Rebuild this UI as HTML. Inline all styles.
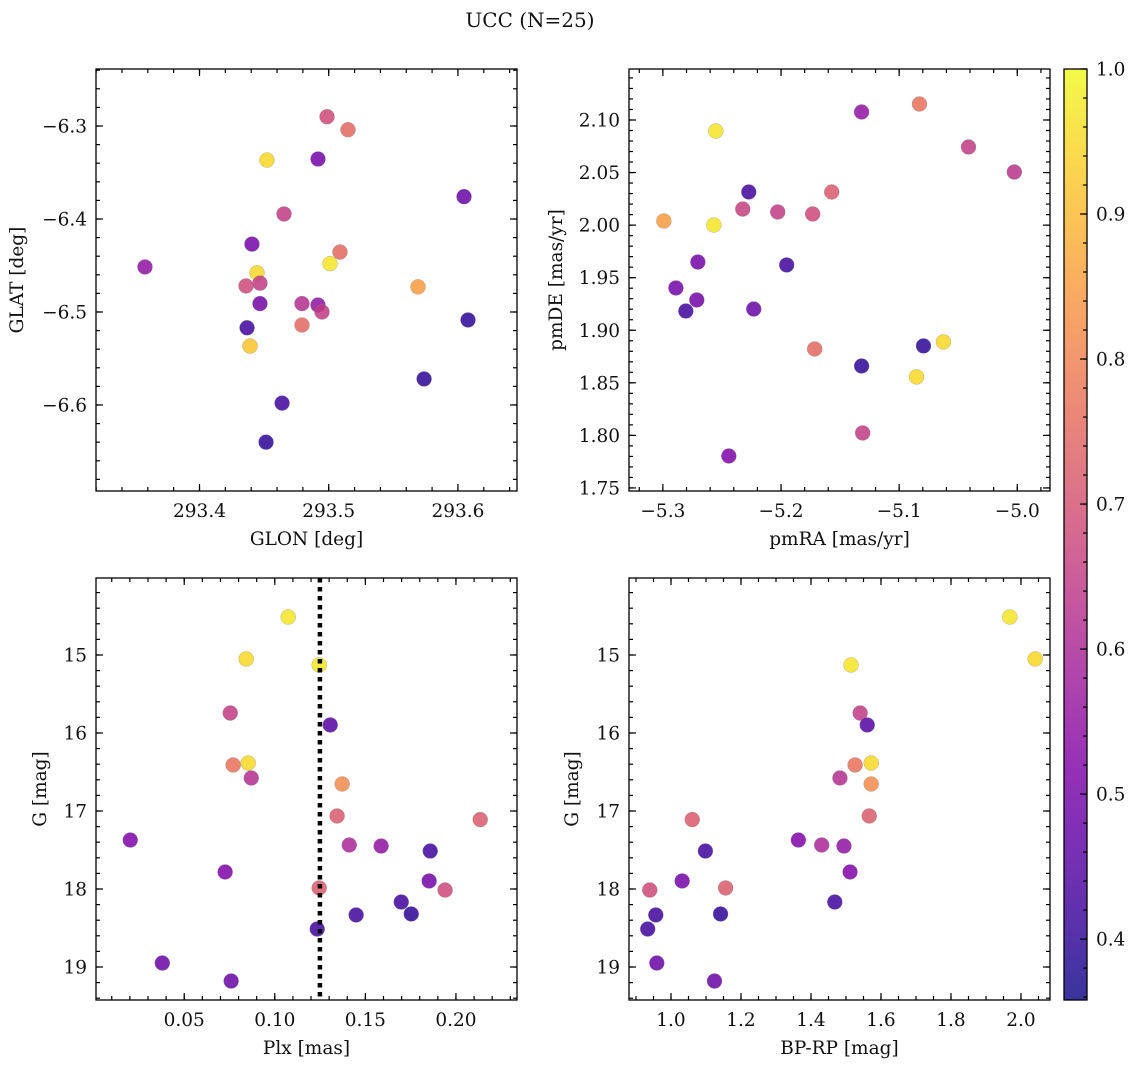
<!DOCTYPE html>
<html><head><meta charset="utf-8">
<style>
body{margin:0;background:#fff;}
svg text{font-family:"DejaVu Serif","Liberation Serif",serif;fill:#111;}
</style></head>
<body>
<svg id="fig" width="1136" height="1068" viewBox="0 0 1136 1068" xmlns="http://www.w3.org/2000/svg">
<rect width="1136" height="1068" fill="#fff"/>
<text x="530" y="27" font-size="20" text-anchor="middle">UCC (N=25)</text>
</svg>
<script>
// Panel 1 data
const glon=[293.3578,293.4522,293.4987,293.5149,293.4917,293.6047,293.4654,293.4406,293.501,293.5087,293.4445,293.436,293.4468,293.5691,293.4468,293.4793,293.4917,293.4948,293.4793,293.6078,293.4368,293.4391,293.5738,293.4639,293.4515];
const glat=[-6.4516,-6.3366,-6.290,-6.304,-6.3355,-6.376,-6.3946,-6.427,-6.448,-6.4355,-6.458,-6.472,-6.469,-6.473,-6.491,-6.491,-6.4925,-6.5,-6.514,-6.5086,-6.517,-6.5366,-6.572,-6.598,-6.640];
const prob1=[0.55,0.95,0.68,0.75,0.5,0.48,0.65,0.5,0.97,0.75,0.95,0.68,0.65,0.85,0.5,0.62,0.55,0.65,0.75,0.4,0.42,0.92,0.4,0.42,0.4];
// Panel 2 data
const pmra=[-5.0828,-5.1318,-5.2552,-5.0413,-5.0025,-5.2273,-5.1571,-5.2324,-5.2028,-5.1732,-5.2992,-5.2569,-5.2704,-5.1952,-5.289,-5.2713,-5.2806,-5.2231,-5.0625,-5.0794,-5.1715,-5.1318,-5.0853,-5.1309,-5.2442];
const pmde=[2.1152,2.1076,2.0895,2.0743,2.0505,2.0315,2.0315,2.0153,2.0125,2.0106,2.0039,2.0001,1.9649,1.9621,1.9402,1.9288,1.9183,1.9202,1.8889,1.8851,1.8822,1.866,1.8556,1.8023,1.7804];
const prob2=[0.77,0.55,0.97,0.65,0.63,0.42,0.72,0.66,0.65,0.68,0.85,0.97,0.5,0.42,0.5,0.5,0.42,0.48,0.95,0.4,0.75,0.4,0.95,0.65,0.52];
// Panels 3 & 4 data (shared G)
const plx=[0.1074,0.0842,0.1245,0.0754,0.1306,0.077,0.0853,0.087,0.1372,0.1344,0.2134,0.0202,0.1411,0.1587,0.1858,0.0726,0.1852,0.194,0.1245,0.1698,0.1753,0.1449,0.1234,0.0379,0.0759];
const gmag=[14.513,15.051,15.128,15.744,15.897,16.41,16.385,16.577,16.654,17.064,17.11,17.372,17.436,17.449,17.513,17.782,17.897,18.013,17.987,18.167,18.32,18.333,18.513,18.949,19.18];
const bprp=[1.968,2.0405,1.5145,1.5405,1.5607,1.526,1.572,1.4827,1.572,1.5665,1.0607,1.364,1.4306,1.4942,1.0983,1.5116,1.0318,0.9393,1.156,1.468,1.1416,0.9566,0.9335,0.9595,1.1243];
const prob3=[0.97,0.95,0.97,0.65,0.45,0.77,0.95,0.62,0.82,0.72,0.72,0.52,0.6,0.55,0.42,0.52,0.5,0.68,0.72,0.42,0.4,0.42,0.42,0.48,0.48];
const plxCut=[0.1249];
const cbTicks=[0.4,0.5,0.6,0.7,0.8,0.9,1.0];

const NS='http://www.w3.org/2000/svg';
const svg=document.getElementById('fig');
function mk(tag,attrs,parent){const e=document.createElementNS(NS,tag);for(const k in attrs)e.setAttribute(k,attrs[k]);(parent||svg).appendChild(e);return e;}
const VMIN=0.358,VMAX=1.0;
const stops=[[13,8,135],[76,2,161],[126,3,168],[169,35,149],[204,71,120],[229,107,93],[248,148,65],[253,195,40],[240,249,33]];
function plasma(v){let t=(v-VMIN)/(VMAX-VMIN);t=Math.max(0,Math.min(1,t));const s=t*8;const i=Math.min(7,Math.floor(s));const f=s-i;const a=stops[i],b=stops[i+1];return 'rgb('+a.map((c,k)=>Math.round(c+(b[k]-c)*f)).join(',')+')';}
function fmt(v,d){const s=Math.abs(v).toFixed(d);return (v<0?'\u2212':'')+s;}
const FS=18.5;

function panel(o){
  const g=mk('g',{});
  
  
  const sx=v=>o.px0+(v-o.xmin)/(o.xmax-o.xmin)*(o.px1-o.px0);
  const sy=o.invert?(v=>o.py0+(v-o.ymin)/(o.ymax-o.ymin)*(o.py1-o.py0)):(v=>o.py1-(v-o.ymin)/(o.ymax-o.ymin)*(o.py1-o.py0));
  const tg=mk('g',{stroke:'#000','stroke-width':1.2},g);
  const eps=1e-9;
  function ticksX(step,len,labels){
    const start=Math.ceil((Math.min(o.xmin,o.xmax))/step-eps);
    for(let k=start;k*step<=Math.max(o.xmin,o.xmax)+eps;k++){const v=k*step,x=sx(v);
      mk('line',{x1:x,x2:x,y1:o.py1,y2:o.py1-len},tg);mk('line',{x1:x,x2:x,y1:o.py0,y2:o.py0+len},tg);
      if(labels){const t=mk('text',{x:x,y:o.py1+26,'font-size':FS,'text-anchor':'middle'},g);t.textContent=fmt(v,o.xd);
        }}
  }
  function ticksY(step,len,labels){
    const lo=Math.min(o.ymin,o.ymax),hi=Math.max(o.ymin,o.ymax);
    for(let k=Math.ceil(lo/step-eps);k*step<=hi+eps;k++){const v=k*step,y=sy(v);
      mk('line',{x1:o.px0,x2:o.px0+len,y1:y,y2:y},tg);mk('line',{x1:o.px1,x2:o.px1-len,y1:y,y2:y},tg);
      if(labels){const t=mk('text',{x:o.px0-9,y:y+6.5,'font-size':FS,'text-anchor':'end'},g);t.textContent=fmt(v,o.yd);
        }}
  }
  ticksX(o.xmaj,7,true);ticksX(o.xmin_,4,false);ticksY(o.ymaj,7,true);ticksY(o.ymin_,4,false);
  for(let i=0;i<o.x.length;i++){
    const c=mk('circle',{cx:sx(o.x[i]),cy:sy(o.y[i]),r:7.5,fill:plasma(o.c[i]),'fill-opacity':0.85,stroke:'#888','stroke-width':0.5,'stroke-opacity':0.6},g);
    
    
  }
  if(o.vline){for(const v of o.vline){const l=mk('line',{x1:sx(v),x2:sx(v),y1:o.py0,y2:o.py1,stroke:'#000','stroke-width':4.5,'stroke-dasharray':'4.5,4.5'},g);
    }}
  const fr=mk('rect',{x:o.px0,y:o.py0,width:o.px1-o.px0,height:o.py1-o.py0,fill:'none',stroke:'#000','stroke-width':1.3},g);
  
  const xl=mk('text',{x:(o.px0+o.px1)/2,y:o.py1+54,'font-size':FS,'text-anchor':'middle'},g);xl.textContent=o.xlabel;
  
  const cy=(o.py0+o.py1)/2;
  const yl=mk('text',{x:o.ylx,y:cy,'font-size':FS,'text-anchor':'middle',transform:'rotate(-90 '+o.ylx+' '+cy+')'},g);yl.textContent=o.ylabel;
  
}

panel({name:'glon-glat-panel',px0:96,px1:517,py0:69,py1:491,xmin:293.3199,xmax:293.6457,ymin:-6.6925,ymax:-6.2387,xmaj:0.1,xmin_:0.02,ymaj:0.1,ymin_:0.02,xd:1,yd:1,x:glon,y:glat,c:prob1,xlabel:'GLON [deg]',ylabel:'GLAT [deg]',ylx:23});
panel({name:'pm-panel',px0:629,px1:1050,py0:69,py1:491,xmin:-5.3287,xmax:-4.9723,ymin:1.7471,ymax:2.1485,xmaj:0.1,xmin_:0.02,ymaj:0.05,ymin_:0.01,xd:1,yd:2,x:pmra,y:pmde,c:prob2,xlabel:'pmRA [mas/yr]',ylabel:'pmDE [mas/yr]',ylx:562});
panel({name:'plx-g-panel',px0:96,px1:517,py0:578,py1:1000,xmin:0.0013,xmax:0.2337,ymin:14.013,ymax:19.423,invert:true,xmaj:0.05,xmin_:0.01,ymaj:1,ymin_:0.2,xd:2,yd:0,x:plx,y:gmag,c:prob3,xlabel:'Plx [mas]',ylabel:'G [mag]',ylx:46,vline:plxCut});
panel({name:'cmd-panel',px0:629,px1:1050,py0:578,py1:1000,xmin:0.88,xmax:2.0829,ymin:14.013,ymax:19.423,invert:true,xmaj:0.2,xmin_:0.05,ymaj:1,ymin_:0.2,xd:1,yd:0,x:bprp,y:gmag,c:prob3,xlabel:'BP-RP [mag]',ylabel:'G [mag]',ylx:578});

(function(){
  const x0=1064,x1=1087,y0=69,y1=1000;
  const g=mk('g',{});
  
  
  const defs=mk('defs',{},g);
  const lg=mk('linearGradient',{id:'cbg',x1:0,y1:1,x2:0,y2:0},defs);
  for(let i=0;i<=20;i++){const v=VMIN+(VMAX-VMIN)*i/20;mk('stop',{offset:(i/20),'stop-color':plasma(v)},lg);}
  mk('rect',{x:x0,y:y0,width:x1-x0,height:y1-y0,fill:'url(#cbg)','fill-opacity':0.82},g);
  const sy=v=>y1-(v-VMIN)/(VMAX-VMIN)*(y1-y0);
  for(let k=18;k<=50;k++){const v=k*0.02;if(v<VMIN-1e-9||v>VMAX+1e-9)continue;const y=sy(v);
    mk('line',{x1:x1,x2:x1-4,y1:y,y2:y,stroke:'#000','stroke-width':1.2},g);}
  for(const v of cbTicks){const y=sy(v);mk('line',{x1:x1,x2:x1-7,y1:y,y2:y,stroke:'#000','stroke-width':1.2},g);
    const t=mk('text',{x:x1+9,y:y+6.5,'font-size':FS},g);t.textContent=v.toFixed(1);
    }
  mk('rect',{x:x0,y:y0,width:x1-x0,height:y1-y0,fill:'none',stroke:'#000','stroke-width':1.3},g);
})();
</script>
</body></html>
